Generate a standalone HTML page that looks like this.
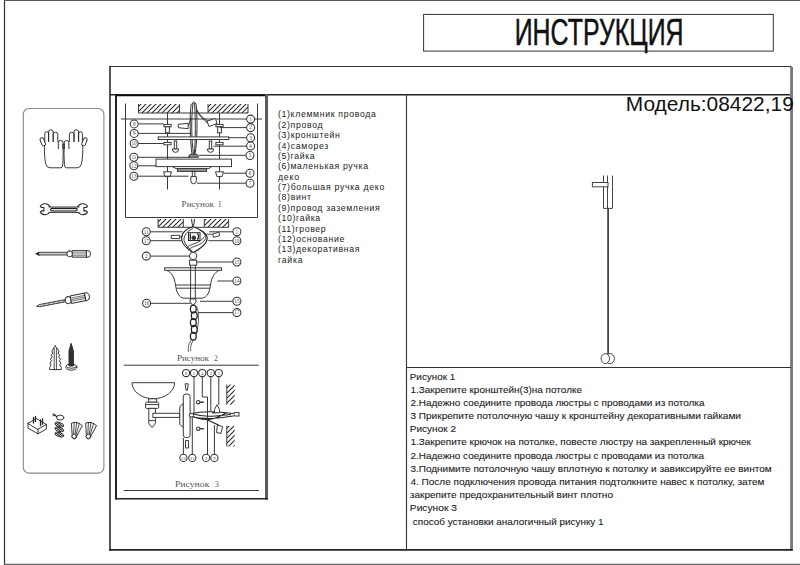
<!DOCTYPE html>
<html><head><meta charset="utf-8">
<style>
html,body{margin:0;padding:0;background:#fff;width:800px;height:565px;overflow:hidden}
svg{display:block;position:absolute;left:0;top:0}
svg{font-family:"Liberation Sans",sans-serif}
.m{font-family:"Liberation Mono",monospace}
</style></head><body>
<svg width="800" height="565" viewBox="0 0 800 565">
<defs>
<pattern id="hat" patternUnits="userSpaceOnUse" width="5" height="5">
<path d="M-1,6 L6,-1 M-1,1 L1,-1 M4,6 L6,4" stroke="#222" stroke-width="1.05"/>
</pattern>
</defs>

<!-- outer frame -->
<g fill="none">
<line x1="4.5" y1="0" x2="4.5" y2="565" stroke="#333" stroke-width="1.2"/>
<line x1="4" y1="0.5" x2="800" y2="0.5" stroke="#555" stroke-width="1.2"/>
<line x1="4" y1="564.4" x2="800" y2="564.4" stroke="#666" stroke-width="1.3"/>
</g>

<!-- title -->
<rect x="423.6" y="14.4" width="349.7" height="36.7" fill="none" stroke="#333" stroke-width="1"/>
<text x="514.7" y="45.1" font-size="36" textLength="168.8" lengthAdjust="spacingAndGlyphs" fill="#111" stroke="#111" stroke-width="0.5">ИНСТРУКЦИЯ</text>

<!-- main box -->
<g fill="none">
<line x1="110" y1="66" x2="110" y2="550.8" stroke="#555" stroke-width="2"/>
<line x1="109" y1="66.5" x2="791.5" y2="66.5" stroke="#333" stroke-width="1.2"/>
<line x1="790.5" y1="67" x2="790.5" y2="549" stroke="#888" stroke-width="1"/>
<line x1="792" y1="67" x2="792" y2="550.8" stroke="#333" stroke-width="1.3"/>
<line x1="109" y1="549.9" x2="792.6" y2="549.9" stroke="#222" stroke-width="1.8"/>
<line x1="110" y1="94.7" x2="790" y2="94.7" stroke="#222" stroke-width="1.4"/>
<!-- drawing panel -->
<line x1="116" y1="94" x2="116" y2="499.5" stroke="#222" stroke-width="2"/>
<line x1="116" y1="95.5" x2="267" y2="95.5" stroke="#111" stroke-width="1.6"/>
<line x1="266.5" y1="94" x2="266.5" y2="499.5" stroke="#5a5a5a" stroke-width="3"/>
<line x1="115" y1="498.7" x2="268" y2="498.7" stroke="#222" stroke-width="1.6"/>
<!-- text column right -->
<line x1="406.5" y1="94" x2="406.5" y2="550" stroke="#333" stroke-width="1.1"/>
<line x1="406" y1="367.5" x2="791" y2="367.5" stroke="#333" stroke-width="1.1"/>
</g>

<!-- sidebar -->
<rect x="23.3" y="108.5" width="80.6" height="364.6" rx="5.8" fill="none" stroke="#888" stroke-width="1.1"/>

<g id="icons" fill="none" stroke="#222" stroke-width="0.9" stroke-linejoin="round" stroke-linecap="round">
<g><path d="M44.8,141.5 V133.6 A1.9000000000000021,1.9000000000000021 0 0 1 48.6,133.6 V141.5 M48.6,141.5 V132.0 A2.3000000000000007,2.3000000000000007 0 0 1 53.2,132.0 V141.5 M53.2,141.5 V134.5 A2.299999999999997,2.299999999999997 0 0 1 57.8,134.5 V141.5 M58.3,148.7 V142.75 A2.3500000000000014,2.3500000000000014 0 0 1 63,142.75 V148.7 M44.6,141.5 C44.2,150 44.4,159 46,164.5 Q47,167.8 50,167.8 H61 Q62.6,167.8 62.8,164.5 C63.2,158 63.4,151 63,144"/><rect x="40.9" y="137.6" width="3.7" height="8.4" rx="1.8" transform="rotate(-22 42.7 141.8)" fill="#fff"/></g>
<g transform="translate(127.2,0) scale(-1,1)"><path d="M44.8,141.5 V133.6 A1.9000000000000021,1.9000000000000021 0 0 1 48.6,133.6 V141.5 M48.6,141.5 V132.0 A2.3000000000000007,2.3000000000000007 0 0 1 53.2,132.0 V141.5 M53.2,141.5 V134.5 A2.299999999999997,2.299999999999997 0 0 1 57.8,134.5 V141.5 M58.3,148.7 V142.75 A2.3500000000000014,2.3500000000000014 0 0 1 63,142.75 V148.7 M44.6,141.5 C44.2,150 44.4,159 46,164.5 Q47,167.8 50,167.8 H61 Q62.6,167.8 62.8,164.5 C63.2,158 63.4,151 63,144"/><rect x="40.9" y="137.6" width="3.7" height="8.4" rx="1.8" transform="rotate(-22 42.7 141.8)" fill="#fff"/></g>
<path d="M40.3,206.3 A5.5,5.5 0 1 1 40.3,212.1 L41.6,210.9 H43.9 V207.5 H41.6 Z" fill="#fff" stroke-width="1.1"/>
<path d="M87.5,206.3 A5.5,5.5 0 1 0 87.5,212.1 L86.2,210.9 H83.9 V207.5 H86.2 Z" fill="#fff" stroke-width="1.1"/>
<rect x="48.6" y="207" width="30.6" height="5.4" fill="#fff" stroke="none"/>
<path d="M49,207 H79 M49,212.4 H79"/>
<rect x="50.6" y="208.4" width="26.6" height="2.6" rx="1.2" fill="#ddd" stroke-width="1.1"/>
<path d="M36.1,253.6 L39.2,252.3 L39.2,255 Z" fill="#222"/>
<rect x="39" y="252.3" width="28.3" height="2.7" fill="#ccc" stroke-width="0.8"/>
<rect x="67" y="251" width="5.6" height="5.6" rx="2.2" fill="#fff"/>
<rect x="72.6" y="250.6" width="14.2" height="6.6" fill="#eee"/>
<path d="M73,252.2 H86.5 M73,253.9 H86.5 M73,255.6 H86.5" stroke="#666" stroke-width="0.7"/>
<path d="M86.8,250.6 H88 Q90.5,250.6 90.5,253.9 Q90.5,257.2 88,257.2 H86.8 Z" fill="#fff"/>
<g transform="rotate(-10.8 37 306)">
<path d="M37,306 L40,305 H66 V307.2 H40 Z" fill="#ddd" stroke-width="0.8"/>
<path d="M43,307.2 L45,305 M48,307.2 L50,305 M53,307.2 L55,305 M58,307.2 L60,305 M63,307.2 L65,305" stroke="#444" stroke-width="0.6"/>
<rect x="65.8" y="302.6" width="6" height="7" rx="2.6" fill="#fff"/>
<rect x="71.8" y="302.3" width="14.5" height="7.6" fill="#fff"/>
<path d="M72.5,304.5 H86 M72.5,306.1 H86 M72.5,307.7 H86" stroke="#444" stroke-width="0.7"/>
<path d="M86.3,302.3 H87.5 Q90.3,302.3 90.3,306.1 Q90.3,309.9 87.5,309.9 H86.3 Z" fill="#fff"/>
</g>
<path d="M55.2,346 C53.5,348 52.5,350 51.8,352 L53,353 L51,355.5 L52.3,356.5 L50.3,359.5 L51.6,360.5 L49.9,363.5 L51.2,364.5 L49.6,367.5 V369.6 H61.3 V367.5 L59.7,364.5 L61,363.5 L59.3,360.5 L60.6,359.5 L58.6,356.5 L59.9,355.5 L57.9,353 L59.1,352 C58.4,350 57,348 55.2,346 Z" fill="#fff"/>
<path d="M54.2,348 V369.6 M56.4,348 V369.6" stroke-width="0.8"/>
<ellipse cx="71.35" cy="367.4" rx="5.5" ry="2.8" fill="#fff"/>
<ellipse cx="71.35" cy="366.2" rx="5.4" ry="2" fill="#fff"/>
<path d="M71.2,343.7 L73.4,351 V366 H69 V351 Z" fill="#333"/>
<path d="M28,423.2 L36.5,418.6 L46.4,424.4 L38,429.2 Z M28,423.2 V428.2 L38,433.8 V429.2 M38,433.8 L46.4,429 V424.4" fill="#fff"/>
<path d="M33.5,423 V417.5 M35.5,421.5 V416.3 M40.5,425.5 V420 M42.5,424.3 V419" stroke-width="1.3"/>
<ellipse cx="60.2" cy="417.6" rx="3.6" ry="2.5" fill="#fff"/>
<path d="M54,415 L56.8,416.6" stroke-width="1.2"/>
<circle cx="53.8" cy="414.8" r="1" fill="#fff"/>
<ellipse cx="59.3" cy="424.6" rx="4.6" ry="2.1" transform="rotate(18 59.3 424.6)" fill="#fff"/>
<path d="M56,423.1 L60,426.1 M58,422.6 L62,425.6" stroke-width="1.1"/>
<ellipse cx="59.3" cy="429.4" rx="4.6" ry="2.1" transform="rotate(18 59.3 429.4)" fill="#fff"/>
<path d="M56,427.9 L60,430.9 M58,427.4 L62,430.4" stroke-width="1.1"/>
<ellipse cx="59.3" cy="434.6" rx="4.6" ry="2.1" transform="rotate(18 59.3 434.6)" fill="#fff"/>
<path d="M56,433.1 L60,436.1 M58,432.6 L62,435.6" stroke-width="1.1"/>
<g transform="translate(0,0)"><path d="M71.8,423 Q77,420.8 82.4,425.6 L76.6,436.2 A2.4,2.4 0 1 1 72,435.6 Z" fill="#fff"/><path d="M74.2,422.4 L73.6,434.2 M76.8,422.4 L75,434.6 M79.4,423.4 L76,435" stroke-width="0.8"/><circle cx="74.2" cy="436.3" r="2.2" fill="#fff"/></g>
<g transform="translate(14.2,0)"><path d="M71.8,423 Q77,420.8 82.4,425.6 L76.6,436.2 A2.4,2.4 0 1 1 72,435.6 Z" fill="#fff"/><path d="M74.2,422.4 L73.6,434.2 M76.8,422.4 L75,434.6 M79.4,423.4 L76,435" stroke-width="0.8"/><circle cx="74.2" cy="436.3" r="2.2" fill="#fff"/></g>
</g>
<!--endicons-->

<!-- pendant -->
<g fill="none" stroke="#444" stroke-width="1">
<path d="M603.5,175.5 V208.4 H612.5 V175.5 M607.5,175.5 V208.4"/>
<rect x="592.4" y="182.5" width="15.6" height="4.3" fill="#fff"/>
<line x1="608.1" y1="208.4" x2="608.1" y2="354" stroke="#444" stroke-width="1.8"/>
<ellipse cx="609.9" cy="358.6" rx="4.5" ry="5"/>
<ellipse cx="605.3" cy="358.6" rx="4.2" ry="5" fill="#fff"/>
</g>

<!-- model -->
<text x="625.8" y="111.3" font-size="19.5" textLength="168" lengthAdjust="spacingAndGlyphs" fill="#111">Модель:08422,19</text>

<!-- list -->
<g font-size="8.7" fill="#1a1a1a" transform="translate(0,0.3)">
<text x="277.9" y="117.1" textLength="97.9" lengthAdjust="spacing">(1)клеммник провода</text>
<text x="277.9" y="127.5" textLength="44.8" lengthAdjust="spacing">(2)провод</text>
<text x="277.9" y="137.9" textLength="62.0" lengthAdjust="spacing">(3)кронштейн</text>
<text x="277.9" y="148.3" textLength="50.4" lengthAdjust="spacing">(4)саморез</text>
<text x="277.9" y="158.7" textLength="36.8" lengthAdjust="spacing">(5)гайка</text>
<text x="277.9" y="169.0" textLength="90.1" lengthAdjust="spacing">(6)маленькая ручка</text>
<text x="277.9" y="179.4" textLength="21.3" lengthAdjust="spacing">деко</text>
<text x="277.9" y="189.8" textLength="106.4" lengthAdjust="spacing">(7)большая ручка деко</text>
<text x="277.9" y="200.2" textLength="33.1" lengthAdjust="spacing">(8)винт</text>
<text x="277.9" y="210.6" textLength="101.9" lengthAdjust="spacing">(9)провод заземления</text>
<text x="277.9" y="221.0" textLength="42.3" lengthAdjust="spacing">(10)гайка</text>
<text x="277.9" y="231.4" textLength="47.8" lengthAdjust="spacing">(11)гровер</text>
<text x="277.9" y="241.8" textLength="66.5" lengthAdjust="spacing">(12)основание</text>
<text x="277.9" y="252.2" textLength="81.6" lengthAdjust="spacing">(13)декоративная</text>
<text x="277.9" y="262.6" textLength="24.6" lengthAdjust="spacing">гайка</text>
</g>

<!-- instructions -->
<g font-size="9.8" fill="#1a1a1a" stroke="#1a1a1a" stroke-width="0.1">
<text x="409.8" y="379.7" textLength="45.4" lengthAdjust="spacingAndGlyphs">Рисунок 1</text>
<text x="410.4" y="392.9" textLength="171.6" lengthAdjust="spacingAndGlyphs">1.Закрепите кронштейн(3)на потолке</text>
<text x="410.4" y="406.0" textLength="294.1" lengthAdjust="spacingAndGlyphs">2.Надежно соедините провода люстры с проводами из потолка</text>
<text x="410.4" y="419.1" textLength="330.6" lengthAdjust="spacingAndGlyphs">3 Прикрепите потолочную чашу к кронштейну декоративными гайками</text>
<text x="409.8" y="432.2" textLength="46.2" lengthAdjust="spacingAndGlyphs">Рисунок 2</text>
<text x="410.4" y="445.3" textLength="340.6" lengthAdjust="spacingAndGlyphs">1.Закрепите крючок на потолке, повесте люстру на закрепленный крючек</text>
<text x="410.4" y="458.5" textLength="293.7" lengthAdjust="spacingAndGlyphs">2.Надежно соедините провода люстры с проводами из потолка</text>
<text x="410.4" y="471.6" textLength="361.2" lengthAdjust="spacingAndGlyphs">3.Поднимите потолочную чашу вплотную к потолку и завиксируйте ее винтом</text>
<text x="410.4" y="484.7" textLength="354.0" lengthAdjust="spacingAndGlyphs">4. После подключения провода питания подтолкните навес к потолку, затем</text>
<text x="409.8" y="497.8" textLength="203.2" lengthAdjust="spacingAndGlyphs">закрепите предохранительный винт плотно</text>
<text x="409.8" y="510.9" textLength="47.2" lengthAdjust="spacingAndGlyphs">Рисунок 3</text>
<text x="412.8" y="524.6" textLength="190.8" lengthAdjust="spacingAndGlyphs">способ установки аналогичный рисунку 1</text>
</g>

<!-- DRAWINGS -->
<g id="draw" fill="none" stroke="#3a3a3a" stroke-width="1">
<g id="f1">
<path d="M125.5,103.5 V217.5 H257.5 V103.5"/>
<rect x="138.5" y="104" width="41" height="9" fill="url(#hat)" stroke="none"/>
<path d="M138.5,104 V113 M138.5,113 H179.5 M179.5,104 V113 "/>
<rect x="208" y="104" width="40" height="9" fill="url(#hat)" stroke="none"/>
<path d="M208,104 V113 M208,113 H248 M248,104 V113 "/>
<line x1="179.5" y1="113" x2="208" y2="113"/>
<line x1="121" y1="119" x2="262" y2="119"/>
<line x1="167.5" y1="113" x2="167.5" y2="189.5"/>
<line x1="219.5" y1="113" x2="219.5" y2="189.5"/>
<path d="M191.2,104 C189.5,115 190,140 192,154 M196,104 C197.5,116 197.5,140 195,154 M193,103 C191,120 191.5,140 193.5,154 M194.6,103 C195.5,120 195.8,140 194.2,154 M192,104 Q193.5,100 196,104 M196,108 C198,113 201,117 208.5,121.5 M197,110 C199,116 203,119 208,123.5 M191.5,118 C190,121 189,123 188.3,125.5" stroke="#333" stroke-width="1"/>
<path d="M178.3,124.3 L188.2,123.3 L188.2,128.7 L178.3,127.7 Z" fill="#fff"/>
<path d="M207,121 L215.5,118.5 L217,123.5 L209,126.5 Z" fill="#fff"/>
<rect x="163.9" y="124.4" width="7.2" height="2.4" fill="#fff"/>
<rect x="165.6" y="126.8" width="3.8" height="6" fill="#fff"/>
<rect x="163.9" y="142.4" width="7.2" height="2.4" fill="#fff"/>
<rect x="215.9" y="124.4" width="7.2" height="2.4" fill="#fff"/>
<rect x="217.6" y="126.8" width="3.8" height="6" fill="#fff"/>
<rect x="215.9" y="142.4" width="7.2" height="2.4" fill="#fff"/>
<rect x="158.3" y="136.9" width="70.5" height="2.6" fill="#fff"/>
<rect x="174.3" y="141" width="2.4" height="8" fill="#fff"/>
<path d="M172.3,149 H178.7 Q178.7,152.4 175.5,152.4 Q172.3,152.4 172.3,149 Z" fill="#fff"/>
<rect x="209.3" y="141" width="2.4" height="8" fill="#fff"/>
<path d="M207.3,149 H213.7 Q213.7,152.4 210.5,152.4 Q207.3,152.4 207.3,149 Z" fill="#fff"/>
<path d="M188.5,157.2 L190,154.3 H197 L198.5,157.2 Z" fill="#888"/>
<rect x="156" y="159.1" width="75.5" height="7.5" fill="#fff"/>
<path d="M172.5,166.6 H211.5 L209,168.6 H176 Z" fill="#fff"/>
<rect x="177.5" y="168.6" width="29" height="2.8" fill="#999"/>
<rect x="192.3" y="171.4" width="2.6" height="5.2" fill="#fff"/>
<path d="M190.8,176.6 H196.4 V180.5 Q196.4,183.8 193.6,183.8 Q190.8,183.8 190.8,180.5 Z" fill="#fff"/>
<path d="M163.5,171.8 H171.5 L170.0,176.6 H165.0 Z" fill="#fff"/>
<path d="M215.5,171.8 H223.5 L222.0,176.6 H217.0 Z" fill="#fff"/>
<line x1="138.2" y1="123.9" x2="163.5" y2="123.9"/>
<line x1="138.2" y1="133.4" x2="191" y2="133.4"/>
<line x1="138.2" y1="143.5" x2="163.5" y2="143.5"/>
<line x1="137.9" y1="157.3" x2="190.6" y2="157.3"/>
<line x1="137.9" y1="165.8" x2="156" y2="165.8"/>
<line x1="137.9" y1="176.2" x2="188.5" y2="176.2"/>
<line x1="219.5" y1="127.6" x2="246.6" y2="127.6"/>
<line x1="228.8" y1="137.7" x2="246.6" y2="137.7"/>
<line x1="213.7" y1="146.2" x2="246.6" y2="146.2"/>
<line x1="198.6" y1="155.3" x2="246" y2="155.3"/>
<line x1="223.5" y1="173.2" x2="246" y2="173.2"/>
<line x1="197" y1="183.2" x2="246" y2="183.2"/>
<circle cx="134.2" cy="123.9" r="4.0" fill="#fff" stroke="#333" stroke-width="1.05"/>
<text x="134.2" y="125.7" font-size="5.2" text-anchor="middle" fill="#444" stroke="none" font-family="Liberation Serif">8</text>
<circle cx="134.2" cy="133.4" r="4.0" fill="#fff" stroke="#333" stroke-width="1.05"/>
<text x="134.2" y="135.20000000000002" font-size="5.2" text-anchor="middle" fill="#444" stroke="none" font-family="Liberation Serif">9</text>
<circle cx="134.2" cy="143.5" r="4.0" fill="#fff" stroke="#333" stroke-width="1.05"/>
<text x="134.2" y="145.3" font-size="5.2" text-anchor="middle" fill="#444" stroke="none" font-family="Liberation Serif">10</text>
<circle cx="133.9" cy="157.3" r="4.0" fill="#fff" stroke="#333" stroke-width="1.05"/>
<text x="133.9" y="159.10000000000002" font-size="5.2" text-anchor="middle" fill="#444" stroke="none" font-family="Liberation Serif">11</text>
<circle cx="133.9" cy="165.8" r="4.0" fill="#fff" stroke="#333" stroke-width="1.05"/>
<text x="133.9" y="167.60000000000002" font-size="5.2" text-anchor="middle" fill="#444" stroke="none" font-family="Liberation Serif">12</text>
<circle cx="133.9" cy="176.2" r="4.0" fill="#fff" stroke="#333" stroke-width="1.05"/>
<text x="133.9" y="178.0" font-size="5.2" text-anchor="middle" fill="#444" stroke="none" font-family="Liberation Serif">13</text>
<circle cx="250.6" cy="119.1" r="4.0" fill="#fff" stroke="#333" stroke-width="1.05"/>
<text x="250.6" y="120.89999999999999" font-size="5.2" text-anchor="middle" fill="#444" stroke="none" font-family="Liberation Serif">1</text>
<circle cx="250.6" cy="127.6" r="4.0" fill="#fff" stroke="#333" stroke-width="1.05"/>
<text x="250.6" y="129.4" font-size="5.2" text-anchor="middle" fill="#444" stroke="none" font-family="Liberation Serif">2</text>
<circle cx="250.6" cy="137.7" r="4.0" fill="#fff" stroke="#333" stroke-width="1.05"/>
<text x="250.6" y="139.5" font-size="5.2" text-anchor="middle" fill="#444" stroke="none" font-family="Liberation Serif">3</text>
<circle cx="250.6" cy="146" r="4.0" fill="#fff" stroke="#333" stroke-width="1.05"/>
<text x="250.6" y="147.8" font-size="5.2" text-anchor="middle" fill="#444" stroke="none" font-family="Liberation Serif">4</text>
<circle cx="250" cy="155.5" r="4.0" fill="#fff" stroke="#333" stroke-width="1.05"/>
<text x="250" y="157.3" font-size="5.2" text-anchor="middle" fill="#444" stroke="none" font-family="Liberation Serif">5</text>
<circle cx="250" cy="173.3" r="4.0" fill="#fff" stroke="#333" stroke-width="1.05"/>
<text x="250" y="175.10000000000002" font-size="5.2" text-anchor="middle" fill="#444" stroke="none" font-family="Liberation Serif">6</text>
<circle cx="250" cy="183.3" r="4.0" fill="#fff" stroke="#333" stroke-width="1.05"/>
<text x="250" y="185.10000000000002" font-size="5.2" text-anchor="middle" fill="#444" stroke="none" font-family="Liberation Serif">7</text>
<text x="181.6" y="206.6" font-size="7.8" font-family="Liberation Serif" fill="#555" stroke="none" textLength="32.3" lengthAdjust="spacingAndGlyphs">Рисунок</text>
<text x="217.8" y="206.6" font-size="7.8" font-family="Liberation Serif" fill="#555" stroke="none">1</text>
</g>
<g id="f2">
<rect x="158.1" y="219" width="25.2" height="8.3" fill="url(#hat)" stroke="none"/>
<path d="M158.1,219 V227.3 M158.1,227.3 H183.29999999999998 M183.29999999999998,219 V227.3 "/>
<rect x="204.3" y="219" width="24.3" height="8.3" fill="url(#hat)" stroke="none"/>
<path d="M204.3,219 V227.3 M204.3,227.3 H228.60000000000002 M228.60000000000002,219 V227.3 "/>
<line x1="183.3" y1="227.3" x2="204.3" y2="227.3"/>
<path d="M191.6,219 C191.8,222 192.3,225 193,227 M194.5,219 C194.3,222 193.8,225 193,227" stroke="#222" stroke-width="1"/>
<path d="M193,226.8 C185,229 180.5,234.5 181.8,240.5 C183,246 189,250 193,252.8 C198,250 205.5,246 207,240 C208.3,234 201,229 193,226.8 Z" fill="#fff" stroke="#222" stroke-width="1.15"/>
<path d="M193,228.5 C187,231 183.5,236 184,240.5 C185,245 189.5,249 192.5,251.5 M186.5,248 C191,243 199,244.5 204.5,236.5 M188.5,249.8 C193.5,245 201,246.5 205.8,238.5 M199,229.5 C204,232 206,236 205.8,238.5" stroke="#333" stroke-width="0.95"/>
<rect x="188.5" y="232.7" width="11.5" height="7.8" fill="#fff" stroke="#222"/>
<path d="M190.3,233.5 V239.8 M197.2,233.5 C199,234.5 199,238.5 197.2,239.6" stroke="#222" stroke-width="1.3"/>
<circle cx="193.8" cy="237.8" r="1.9" fill="#333"/>
<path d="M183,236 C181.5,236.5 180.5,237 179.6,237 M205.5,234.5 C208,234 210.5,234 212.8,234.5" stroke-width="0.9"/>
<path d="M171.2,235.5 L179.6,235.2 L179.6,238.7 L171.2,238.4 Z" fill="#fff"/>
<path d="M212.8,233.8 L219,232.3 L219.6,235.7 L213.4,237.3 Z" fill="#fff"/>
<circle cx="193.1" cy="256" r="3.7" fill="#fff"/>
<rect x="189.6" y="260.2" width="7.1" height="5" fill="#fff"/>
<path d="M166.5,270.3 C172,272 174.5,278 175.5,285 C176.5,292 178.5,297.5 184,298.2 H202 C207.5,297.5 209.5,292 210.5,285 C211.5,278 214,272 219.8,270.3" fill="#fff"/>
<rect x="164.7" y="267.8" width="56.9" height="2.5" fill="#fff"/>
<line x1="175.5" y1="285" x2="210.5" y2="285"/>
<line x1="176" y1="288.2" x2="210" y2="288.2"/>
<line x1="190.6" y1="265.2" x2="190.6" y2="299"/>
<line x1="195.3" y1="265.2" x2="195.3" y2="299"/>
<path d="M190.2,299 H195.8 L196,302 L193,305.5 L190,302 Z" fill="#fff"/>
<ellipse cx="193.3" cy="309" rx="2.9" ry="3.9" stroke="#222" stroke-width="1.3"/>
<ellipse cx="194.3" cy="315.8" rx="2.9" ry="3.9" stroke="#222" stroke-width="1.3"/>
<ellipse cx="193.3" cy="322.6" rx="2.9" ry="3.9" stroke="#222" stroke-width="1.3"/>
<ellipse cx="194.3" cy="329.4" rx="2.9" ry="3.9" stroke="#222" stroke-width="1.3"/>
<ellipse cx="193.3" cy="336.2" rx="2.9" ry="3.9" stroke="#222" stroke-width="1.3"/>
<path d="M196.5,306 C199.5,312 199,322 196.5,334 M192,339 C189,343 187.5,347 188.5,352 M193.5,339.5 C191,344 190,348 190.8,351" stroke-width="0.8"/>
<line x1="150.3" y1="231.8" x2="182.7" y2="231.8"/>
<line x1="150.3" y1="240.7" x2="181.4" y2="240.7"/>
<line x1="150.3" y1="256.1" x2="189.4" y2="256.1"/>
<line x1="150.6" y1="303.3" x2="190.5" y2="303.3"/>
<line x1="209.2" y1="231.8" x2="232.9" y2="231.8"/>
<line x1="208.4" y1="240.7" x2="232.9" y2="240.7"/>
<line x1="196.7" y1="262" x2="232.9" y2="262"/>
<line x1="217.5" y1="281" x2="232.9" y2="281"/>
<line x1="200" y1="301.3" x2="232.9" y2="301.3"/>
<line x1="198" y1="312.6" x2="232.9" y2="312.6"/>
<circle cx="146.3" cy="231.8" r="4.0" fill="#fff" stroke="#333" stroke-width="1.05"/>
<text x="146.3" y="233.60000000000002" font-size="5.2" text-anchor="middle" fill="#444" stroke="none" font-family="Liberation Serif">11</text>
<circle cx="146.3" cy="240.7" r="4.0" fill="#fff" stroke="#333" stroke-width="1.05"/>
<text x="146.3" y="242.5" font-size="5.2" text-anchor="middle" fill="#444" stroke="none" font-family="Liberation Serif">17</text>
<circle cx="146.3" cy="256.1" r="4.0" fill="#fff" stroke="#333" stroke-width="1.05"/>
<text x="146.3" y="257.90000000000003" font-size="5.2" text-anchor="middle" fill="#444" stroke="none" font-family="Liberation Serif">2</text>
<circle cx="146.6" cy="303.3" r="4.0" fill="#fff" stroke="#333" stroke-width="1.05"/>
<text x="146.6" y="305.1" font-size="5.2" text-anchor="middle" fill="#444" stroke="none" font-family="Liberation Serif">16</text>
<circle cx="236.9" cy="231.8" r="4.0" fill="#fff" stroke="#333" stroke-width="1.05"/>
<text x="236.9" y="233.60000000000002" font-size="5.2" text-anchor="middle" fill="#444" stroke="none" font-family="Liberation Serif">1</text>
<circle cx="236.9" cy="240.7" r="4.0" fill="#fff" stroke="#333" stroke-width="1.05"/>
<text x="236.9" y="242.5" font-size="5.2" text-anchor="middle" fill="#444" stroke="none" font-family="Liberation Serif">10</text>
<circle cx="236.9" cy="262" r="4.0" fill="#fff" stroke="#333" stroke-width="1.05"/>
<text x="236.9" y="263.8" font-size="5.2" text-anchor="middle" fill="#444" stroke="none" font-family="Liberation Serif">15</text>
<circle cx="236.9" cy="281" r="4.0" fill="#fff" stroke="#333" stroke-width="1.05"/>
<text x="236.9" y="282.8" font-size="5.2" text-anchor="middle" fill="#444" stroke="none" font-family="Liberation Serif">14</text>
<circle cx="236.9" cy="301.3" r="4.0" fill="#fff" stroke="#333" stroke-width="1.05"/>
<text x="236.9" y="303.1" font-size="5.2" text-anchor="middle" fill="#444" stroke="none" font-family="Liberation Serif">15</text>
<circle cx="236.9" cy="312.6" r="4.0" fill="#fff" stroke="#333" stroke-width="1.05"/>
<text x="236.9" y="314.40000000000003" font-size="5.2" text-anchor="middle" fill="#444" stroke="none" font-family="Liberation Serif">17</text>
<text x="176.9" y="360.9" font-size="7.8" font-family="Liberation Serif" fill="#555" stroke="none" textLength="32.1" lengthAdjust="spacingAndGlyphs">Рисунок</text>
<text x="213.9" y="360.9" font-size="7.8" font-family="Liberation Serif" fill="#555" stroke="none">2</text>
</g>
<g id="f3">
<line x1="123.7" y1="365.2" x2="258.9" y2="365.2"/>
<line x1="123.7" y1="490.5" x2="258.9" y2="490.5"/>
<path d="M132,382.7 H174.6 A21.3,16 0 0 1 132,382.7 Z" fill="#fff"/>
<rect x="148.6" y="398.8" width="8" height="3.4" fill="#fff"/>
<rect x="145.5" y="402.2" width="13.2" height="6.2" rx="1.2" fill="#fff"/>
<line x1="145.8" y1="404.6" x2="158.4" y2="404.6"/>
<path d="M148.8,408.4 H155.4 V420.5 Q156.2,422.5 154.5,424.8 L152.1,427.6 L149.7,424.8 Q148,422.5 148.8,420.5 Z" fill="#fff"/>
<line x1="148.8" y1="420.6" x2="155.4" y2="420.6"/>
<rect x="152.9" y="413.3" width="26.8" height="4.1" fill="#fff"/>
<path d="M183.3,403.4 L179.8,406.5 V424.5 L183.3,427.5 Z" fill="#fff"/>
<rect x="183.3" y="394.1" width="6.8" height="43.4" rx="2.4" fill="#fff"/>
<path d="M185.1,383.8 H188.3 L187.3,390.3 H186.1 Z" fill="#fff"/>
<path d="M185.5,440.5 H188.5 V448 H185.5 Z"/>
<rect x="226.8" y="384.5" width="7.9" height="20.3" fill="url(#hat)" stroke="none"/>
<path d="M226.8,384.5 V404.8 "/>
<rect x="226.8" y="426" width="7.9" height="20.4" fill="url(#hat)" stroke="none"/>
<path d="M226.8,426 V446.4 "/>
<path d="M190,414 C200,411.5 215,411 233,413.5 M190,416.5 C202,419 215,419.5 233,416 M190,415 C205,422.5 214,420 226,413 M192,413.5 C205,418 216,416 231,414.5 M204,418.5 C211,422 216,423 219.5,426 M212,413 L217,412.5" stroke="#222" stroke-width="1.05"/>
<ellipse cx="191.5" cy="415.2" rx="2.3" ry="1.8" fill="#fff" stroke="#333"/>
<rect x="234" y="412.6" width="5" height="3.4" fill="#fff"/>
<path d="M217,404.8 L219.5,409.5 V412.8 H214.5 V409.5 Z" fill="#fff"/>
<path d="M217.5,425 L222.5,426.5 L221,433.5 L216.5,432.5 Z" fill="#fff"/>
<path d="M199.2,402.2 H203.8" stroke-width="1.5"/>
<circle cx="198.2" cy="402.2" r="1.7" fill="#fff" stroke-width="1.1"/>
<path d="M199.2,428.7 H203.8" stroke-width="1.5"/>
<circle cx="198.2" cy="428.7" r="1.7" fill="#fff" stroke-width="1.1"/>
<line x1="194" y1="376.5" x2="194" y2="414"/>
<path d="M202.3,376.5 V397 H207.5 V454.4"/>
<line x1="210.8" y1="376.5" x2="210.8" y2="411"/>
<line x1="218.8" y1="376.5" x2="218.8" y2="405"/>
<line x1="183.4" y1="454.4" x2="183.4" y2="438"/>
<line x1="192.3" y1="454.4" x2="192.3" y2="418"/>
<line x1="214.4" y1="454.4" x2="214.4" y2="425"/>
<circle cx="186.1" cy="373" r="3.6" fill="#fff" stroke="#333" stroke-width="1.05"/>
<text x="186.1" y="374.8" font-size="4.6" text-anchor="middle" fill="#444" stroke="none" font-family="Liberation Serif">8</text>
<circle cx="194" cy="373" r="3.6" fill="#fff" stroke="#333" stroke-width="1.05"/>
<text x="194" y="374.8" font-size="4.6" text-anchor="middle" fill="#444" stroke="none" font-family="Liberation Serif">5</text>
<circle cx="202.3" cy="373" r="3.6" fill="#fff" stroke="#333" stroke-width="1.05"/>
<text x="202.3" y="374.8" font-size="4.6" text-anchor="middle" fill="#444" stroke="none" font-family="Liberation Serif">4</text>
<circle cx="210.8" cy="373" r="3.6" fill="#fff" stroke="#333" stroke-width="1.05"/>
<text x="210.8" y="374.8" font-size="4.6" text-anchor="middle" fill="#444" stroke="none" font-family="Liberation Serif">2</text>
<circle cx="218.8" cy="373" r="3.6" fill="#fff" stroke="#333" stroke-width="1.05"/>
<text x="218.8" y="374.8" font-size="4.6" text-anchor="middle" fill="#444" stroke="none" font-family="Liberation Serif">1</text>
<circle cx="183.4" cy="457.9" r="3.6" fill="#fff" stroke="#333" stroke-width="1.05"/>
<text x="183.4" y="459.7" font-size="4.6" text-anchor="middle" fill="#444" stroke="none" font-family="Liberation Serif">12</text>
<circle cx="192.3" cy="457.9" r="3.6" fill="#fff" stroke="#333" stroke-width="1.05"/>
<text x="192.3" y="459.7" font-size="4.6" text-anchor="middle" fill="#444" stroke="none" font-family="Liberation Serif">11</text>
<circle cx="206.1" cy="457.9" r="3.6" fill="#fff" stroke="#333" stroke-width="1.05"/>
<text x="206.1" y="459.7" font-size="4.6" text-anchor="middle" fill="#444" stroke="none" font-family="Liberation Serif">3</text>
<circle cx="214.4" cy="457.9" r="3.6" fill="#fff" stroke="#333" stroke-width="1.05"/>
<text x="214.4" y="459.7" font-size="4.6" text-anchor="middle" fill="#444" stroke="none" font-family="Liberation Serif">9</text>
<text x="174.9" y="486.6" font-size="7.8" font-family="Liberation Serif" fill="#555" stroke="none" textLength="34.5" lengthAdjust="spacingAndGlyphs">Рисунок</text>
<text x="215" y="486.6" font-size="7.8" font-family="Liberation Serif" fill="#555" stroke="none">3</text>
</g>
</g>

</svg>
</body></html>
